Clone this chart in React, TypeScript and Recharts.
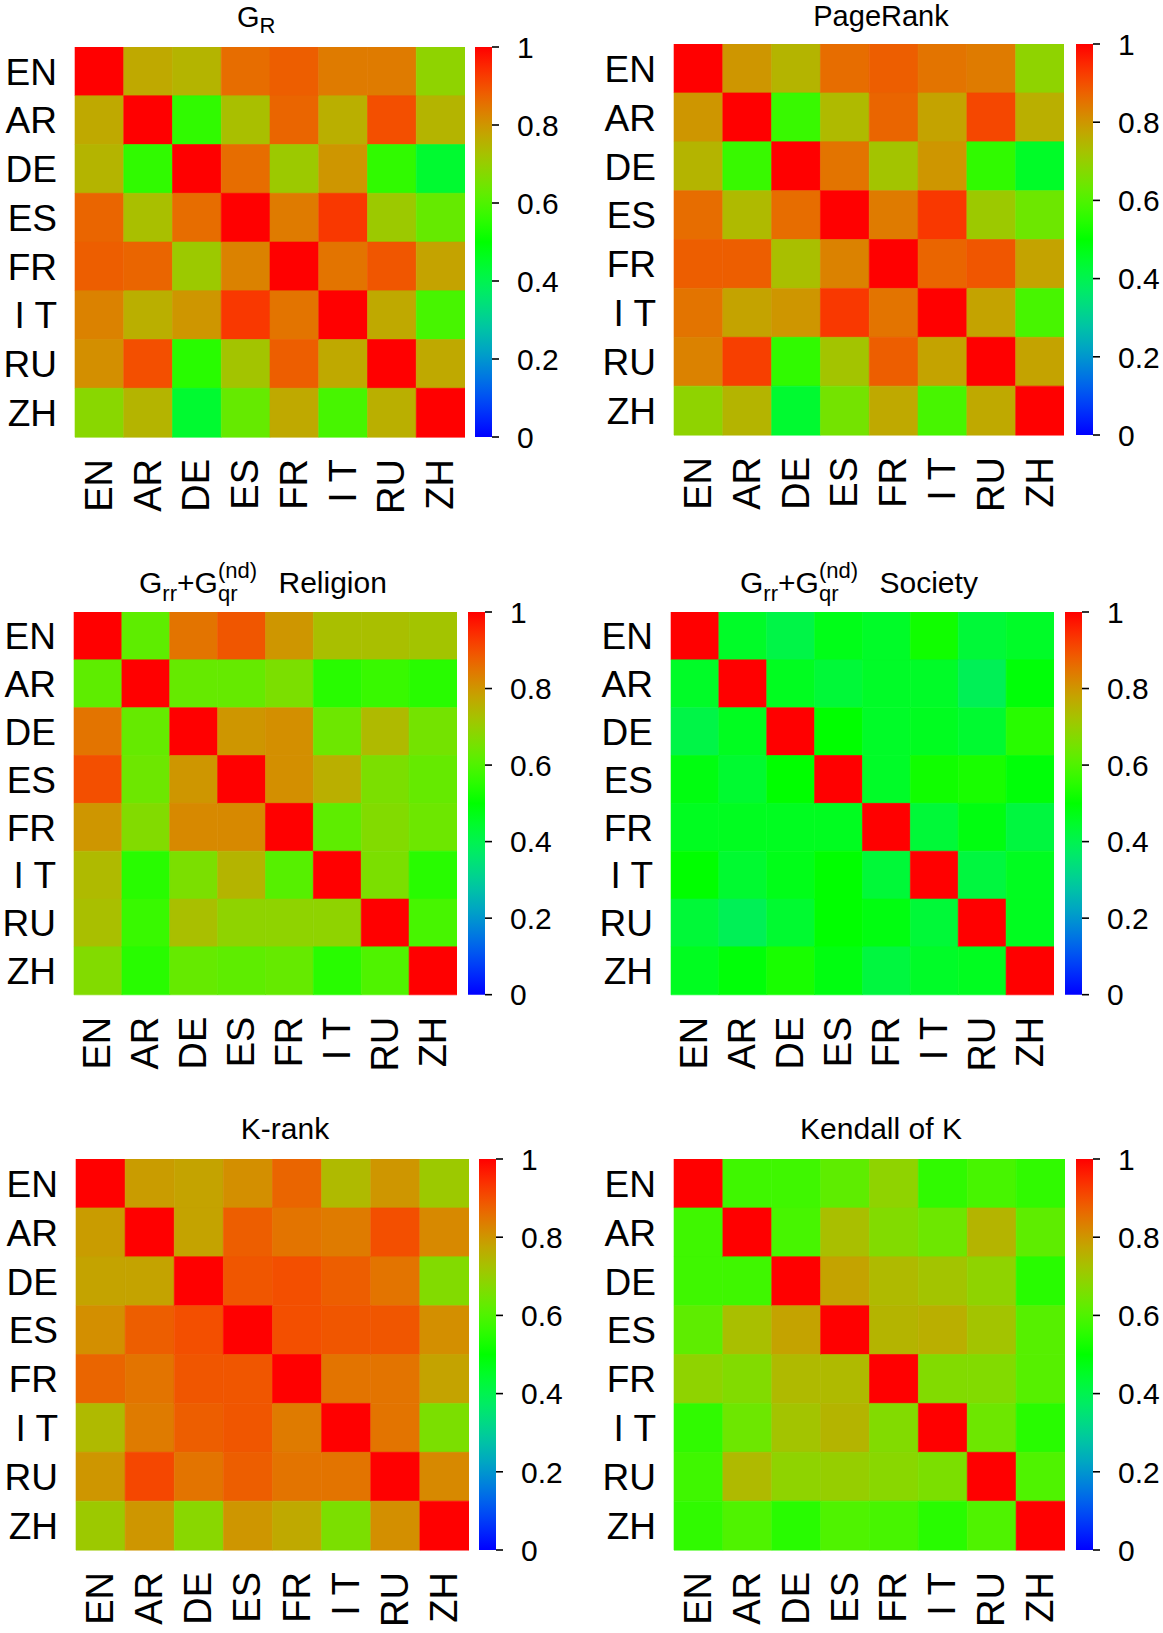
import { BarChart, Bar, Cell, XAxis, YAxis } from "recharts";

const langs = ["EN", "AR", "DE", "ES", "FR", "I T", "RU", "ZH"];
const colTicks = [0.5, 1.5, 2.5, 3.5, 4.5, 5.5, 6.5, 7.5];
const barTicks = [0, 0.2, 0.4, 0.6, 0.8, 1];

// rows EN..ZH, columns EN..ZH
const gR = [
  [1, 0.77, 0.75, 0.86, 0.88, 0.84, 0.84, 0.69],
  [0.77, 1, 0.56, 0.73, 0.87, 0.76, 0.9, 0.75],
  [0.75, 0.56, 1, 0.86, 0.71, 0.8, 0.56, 0.44],
  [0.87, 0.73, 0.86, 1, 0.84, 0.93, 0.71, 0.63],
  [0.88, 0.87, 0.71, 0.83, 1, 0.85, 0.89, 0.78],
  [0.83, 0.76, 0.8, 0.93, 0.85, 1, 0.77, 0.59],
  [0.81, 0.9, 0.55, 0.72, 0.88, 0.77, 1, 0.77],
  [0.68, 0.75, 0.44, 0.63, 0.77, 0.59, 0.76, 1],
];

const pageRank = [
  [1, 0.8, 0.75, 0.86, 0.88, 0.85, 0.84, 0.69],
  [0.8, 1, 0.57, 0.74, 0.87, 0.78, 0.91, 0.76],
  [0.75, 0.57, 1, 0.85, 0.72, 0.8, 0.56, 0.45],
  [0.86, 0.74, 0.86, 1, 0.84, 0.93, 0.71, 0.64],
  [0.88, 0.88, 0.73, 0.83, 1, 0.87, 0.89, 0.78],
  [0.85, 0.78, 0.8, 0.93, 0.85, 1, 0.78, 0.59],
  [0.83, 0.92, 0.56, 0.72, 0.88, 0.78, 1, 0.78],
  [0.69, 0.75, 0.44, 0.65, 0.77, 0.59, 0.77, 1],
];

const religion = [
  [1, 0.62, 0.85, 0.89, 0.8, 0.73, 0.73, 0.72],
  [0.62, 1, 0.63, 0.63, 0.66, 0.55, 0.57, 0.55],
  [0.85, 0.63, 1, 0.8, 0.81, 0.64, 0.74, 0.65],
  [0.9, 0.64, 0.8, 1, 0.81, 0.76, 0.66, 0.63],
  [0.8, 0.67, 0.82, 0.82, 1, 0.62, 0.67, 0.64],
  [0.74, 0.55, 0.66, 0.75, 0.61, 1, 0.66, 0.55],
  [0.73, 0.57, 0.73, 0.69, 0.69, 0.69, 1, 0.59],
  [0.67, 0.55, 0.63, 0.62, 0.63, 0.55, 0.6, 1],
];

const society = [
  [1, 0.45, 0.41, 0.47, 0.45, 0.52, 0.43, 0.45],
  [0.45, 1, 0.46, 0.43, 0.45, 0.45, 0.39, 0.49],
  [0.41, 0.46, 1, 0.5, 0.45, 0.46, 0.44, 0.55],
  [0.48, 0.44, 0.5, 1, 0.45, 0.52, 0.53, 0.49],
  [0.46, 0.46, 0.46, 0.46, 1, 0.43, 0.48, 0.42],
  [0.5, 0.44, 0.47, 0.5, 0.43, 1, 0.42, 0.46],
  [0.43, 0.39, 0.44, 0.5, 0.48, 0.43, 1, 0.46],
  [0.46, 0.49, 0.53, 0.48, 0.42, 0.45, 0.46, 1],
];

const kRank = [
  [1, 0.79, 0.78, 0.81, 0.87, 0.74, 0.8, 0.71],
  [0.79, 1, 0.78, 0.88, 0.85, 0.84, 0.9, 0.82],
  [0.78, 0.78, 1, 0.89, 0.9, 0.88, 0.85, 0.67],
  [0.81, 0.88, 0.9, 1, 0.9, 0.89, 0.89, 0.81],
  [0.87, 0.85, 0.89, 0.89, 1, 0.85, 0.85, 0.78],
  [0.74, 0.84, 0.88, 0.89, 0.84, 1, 0.85, 0.66],
  [0.8, 0.91, 0.85, 0.88, 0.85, 0.85, 1, 0.82],
  [0.71, 0.8, 0.68, 0.8, 0.77, 0.66, 0.81, 1],
];

const kendallK = [
  [1, 0.58, 0.58, 0.62, 0.69, 0.56, 0.59, 0.56],
  [0.58, 1, 0.59, 0.73, 0.67, 0.64, 0.75, 0.62],
  [0.58, 0.58, 1, 0.78, 0.74, 0.72, 0.69, 0.55],
  [0.62, 0.73, 0.78, 1, 0.75, 0.76, 0.72, 0.61],
  [0.69, 0.67, 0.74, 0.74, 1, 0.67, 0.67, 0.61],
  [0.56, 0.64, 0.72, 0.75, 0.67, 1, 0.64, 0.55],
  [0.58, 0.74, 0.69, 0.7, 0.68, 0.66, 1, 0.6],
  [0.56, 0.6, 0.55, 0.6, 0.59, 0.55, 0.6, 1],
];

const font = "'Liberation Sans', Arial, Helvetica, sans-serif";

// blue -> green -> red
const colorOf = (v: number) => {
  let r = 0, g = 0, b = 0;
  if (v >= 0.5) {
    const t = ((v - 0.5) / 0.5) * (Math.PI / 2);
    r = 255 * Math.sin(t);
    g = 255 * Math.cos(t);
  } else {
    const t = (v / 0.5) * (Math.PI / 2);
    g = 255 * Math.sin(t);
    b = 255 * Math.cos(t);
  }
  return `rgb(${Math.round(r)},${Math.round(g)},${Math.round(b)})`;
};

const gradSteps = Array.from({ length: 41 }, (_, i) => i / 40);

const RowTick = (p: any) => (
  <text x={p.x} y={p.y} dy="0.36em" textAnchor="end" fontSize={37} fontFamily={font} fill="#000">
    {p.payload.value}
  </text>
);

const ColTick = (p: any) => (
  <text
    x={p.x}
    y={p.y}
    dy="0.33em"
    transform={`rotate(-90 ${p.x} ${p.y})`}
    textAnchor="end"
    fontSize={38}
    fontFamily={font}
    fill="#000"
  >
    {langs[Math.floor(p.payload.value)]}
  </text>
);

const BarTick = (p: any) => (
  <text x={p.x} y={p.y} dy="0.36em" textAnchor="start" fontSize={30} fontFamily={font} fill="#000">
    {String(p.payload.value)}
  </text>
);

const Heatmap = ({ matrix, x, y, w, h }: { matrix: number[][]; x: number; y: number; w: number; h: number }) => {
  const yw = 100;
  const xh = 100;
  const table = langs.map((lang) => {
    const row: any = { lang };
    langs.forEach((_, j) => {
      row[`c${j}`] = 1;
    });
    return row;
  });
  return (
    <div style={{ position: "absolute", left: x - yw, top: y }}>
      <BarChart
        layout="vertical"
        width={yw + w}
        height={h + xh}
        data={table}
        margin={{ top: 0, right: 0, bottom: 0, left: 0 }}
        barCategoryGap={0}
        barGap={0}
      >
        <XAxis
          type="number"
          domain={[0, 8]}
          ticks={colTicks}
          interval={0}
          height={xh}
          axisLine={false}
          tickLine={false}
          tickSize={0}
          tickMargin={22}
          tick={ColTick}
        />
        <YAxis
          type="category"
          dataKey="lang"
          width={yw}
          interval={0}
          axisLine={false}
          tickLine={false}
          tickSize={0}
          tickMargin={18}
          tick={RowTick}
        />
        {langs.map((_, j) => (
          <Bar key={j} dataKey={`c${j}`} stackId="m" isAnimationActive={false}>
            {matrix.map((row, i) => (
              <Cell key={i} fill={colorOf(row[j])} stroke={colorOf(row[j])} strokeWidth={0.6} />
            ))}
          </Bar>
        ))}
      </BarChart>
    </div>
  );
};

const ColorBar = ({ id, x, y, w, h }: { id: string; x: number; y: number; w: number; h: number }) => (
  <div style={{ position: "absolute", left: x, top: y - 20 }}>
    <BarChart
      width={w + 90}
      height={h + 40}
      data={[{ k: "c", v: 1 }]}
      margin={{ top: 20, right: 0, bottom: 20, left: 0 }}
      barCategoryGap={0}
    >
      <defs>
        <linearGradient id={id} x1="0" y1="1" x2="0" y2="0">
          {gradSteps.map((s) => (
            <stop key={s} offset={`${s * 100}%`} stopColor={colorOf(s)} />
          ))}
        </linearGradient>
      </defs>
      <XAxis dataKey="k" hide height={0} />
      <YAxis
        orientation="right"
        type="number"
        domain={[0, 1]}
        ticks={barTicks}
        interval={0}
        width={90}
        axisLine={false}
        tickSize={7}
        tickMargin={18}
        tickLine={{ stroke: "#000", strokeWidth: 1.6 }}
        tick={BarTick}
      />
      <Bar dataKey="v" fill={`url(#${id})`} isAnimationActive={false} />
    </BarChart>
  </div>
);

const panels = [
  { id: "p1", matrix: gR, x: 75, y: 47, w: 390, h: 390, cb: 475 },
  { id: "p2", matrix: pageRank, x: 673.5, y: 43.5, w: 390.5, h: 391, cb: 1075.5 },
  { id: "p3", matrix: religion, x: 74.3, y: 612.3, w: 383, h: 382.7, cb: 467.7 },
  { id: "p4", matrix: society, x: 671, y: 612.3, w: 383, h: 382.7, cb: 1064.5 },
  { id: "p5", matrix: kRank, x: 75.5, y: 1159, w: 393, h: 391, cb: 479 },
  { id: "p6", matrix: kendallK, x: 673.5, y: 1159, w: 391, h: 391, cb: 1075.5 },
];

const ComboTitle = ({ x, y, word }: { x: number; y: number; word: string }) => (
  <g fontFamily={font} fill="#000">
    <text x={x} y={y} fontSize={30}>
      G<tspan fontSize={22} dy={8}>rr</tspan>
      <tspan fontSize={30} dy={-8}>+G</tspan>
    </text>
    <text x={x + 79} y={y + 8} fontSize={22}>qr</text>
    <text x={x + 79} y={y - 15} fontSize={22}>(nd)</text>
    <text x={x + 139.5} y={y} fontSize={30}>{word}</text>
  </g>
);

export default function App() {
  return (
    <div
      style={{
        position: "absolute",
        left: 0,
        top: 0,
        width: 1163,
        height: 1633,
        overflow: "hidden",
        background: "#fff",
      }}
    >
      {panels.map((p) => (
        <div key={p.id}>
          <Heatmap matrix={p.matrix} x={p.x} y={p.y} w={p.w} h={p.h} />
          <ColorBar id={`grad-${p.id}`} x={p.cb} y={p.y} w={17} h={p.h} />
        </div>
      ))}
      <svg width={1163} height={1633} style={{ position: "absolute", left: 0, top: 0, pointerEvents: "none" }}>
        <g fontFamily={font} fill="#000">
          <text x={237} y={27} fontSize={29}>
            G<tspan fontSize={22} dy={6}>R</tspan>
          </text>
          <text x={881} y={26} fontSize={29} textAnchor="middle">PageRank</text>
          <text x={285} y={1139} fontSize={30} textAnchor="middle">K-rank</text>
          <text x={881} y={1139} fontSize={30} textAnchor="middle">Kendall of K</text>
        </g>
        <ComboTitle x={139} y={593} word="Religion" />
        <ComboTitle x={740} y={593} word="Society" />
      </svg>
    </div>
  );
}
